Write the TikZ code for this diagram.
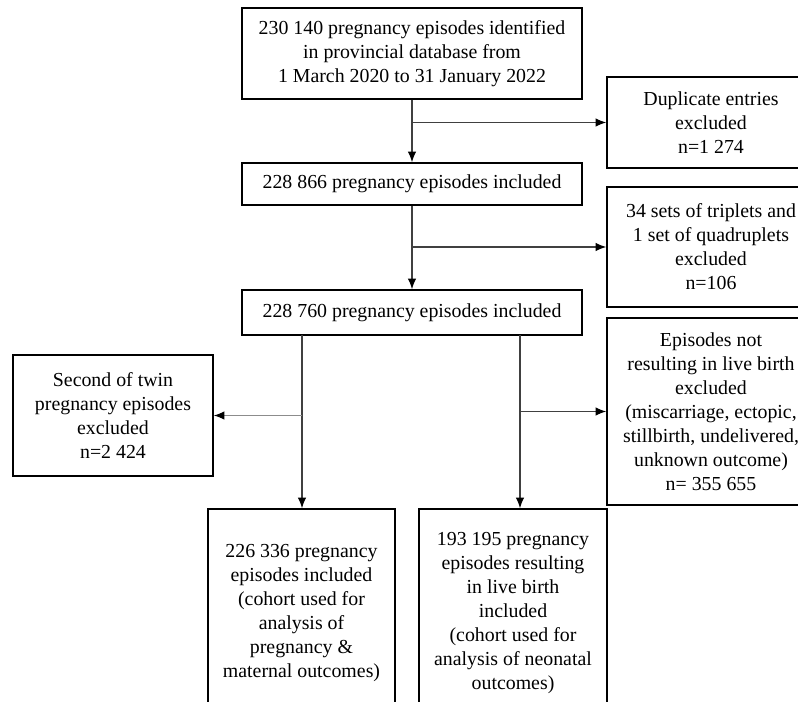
\documentclass[tikz,border=0pt]{standalone}
\usepackage{fontspec}
\setmainfont{Liberation Serif}
\usetikzlibrary{arrows.meta}
\begin{document}
\begin{tikzpicture}[>={Latex[length=2.1mm,width=1.7mm,color=black]}, x=0.02cm, y=-0.02cm]
        \tikzset{
            box/.style={draw, line width=1pt, align=center, inner sep=2pt, font=\fontsize{11.3}{13.7}\selectfont},
            arrow/.style={->, black!75, line width=0.6pt}
        }
        \useasboundingbox (0,0) rectangle (798,702);
        \clip (0,0) rectangle (798,702);

        % main column
        \node[box, minimum width=6.8cm, minimum height=1.82cm] (start) at (412,53.5) {230 140 pregnancy episodes identified\\in provincial database from\\1 March 2020 to 31 January 2022};
        \node[box, minimum width=6.8cm, minimum height=0.84cm] (incl1) at (412,184) {228 866 pregnancy episodes included};
        \node[box, minimum width=6.8cm, minimum height=0.9cm] (incl2) at (412,312.5) {228 760 pregnancy episodes included};

        % exclusions
        \node[box, minimum width=4.16cm, minimum height=1.82cm] (dupl) at (711,122.5) {Duplicate entries\\excluded\\n=1 274};
        \node[box, minimum width=4.16cm, minimum height=2.4cm] (multi) at (711,247) {34 sets of triplets and\\1 set of quadruplets\\excluded\\n=106};
        \node[box, minimum width=4.16cm, minimum height=3.74cm] (nolive) at (711,411.5) {Episodes not\\resulting in live birth\\excluded\\(miscarriage, ectopic,\\stillbirth, undelivered,\\unknown outcome)\\n= 355 655};
        \node[box, minimum width=4cm, minimum height=2.42cm] (twin) at (113,415.5) {Second of twin\\pregnancy episodes\\excluded\\n=2 424};

        % cohorts
        \node[box, minimum width=3.74cm, minimum height=4.16cm] (matern) at (301.5,613) {226 336 pregnancy\\episodes included\\(cohort used for\\analysis of\\pregnancy \&\\maternal outcomes)};
        \node[box, minimum width=3.76cm, minimum height=4.16cm] (neonat) at (513,613) {193 195 pregnancy\\episodes resulting\\in live birth\\included\\(cohort used for\\analysis of neonatal\\outcomes)};

        \coordinate (forkL) at (302,335);
        \coordinate (forkR) at (520,335);

        \draw[arrow] (start) -- (incl1);
        \draw[arrow] (start.south |- dupl.west) -- (dupl.west);
        \draw[arrow] (incl1) -- (incl2);
        \draw[arrow] (incl1.south |- multi.west) -- (multi.west);
        \draw[arrow] (forkL) -- (forkL |- matern.north);
        \draw[arrow, black!45] (forkL |- twin.east) -- (twin.east);
        \draw[arrow] (forkR) -- (forkR |- neonat.north);
        \draw[arrow] (forkR |- nolive.west) -- (nolive.west);
    \end{tikzpicture}
\end{document}
